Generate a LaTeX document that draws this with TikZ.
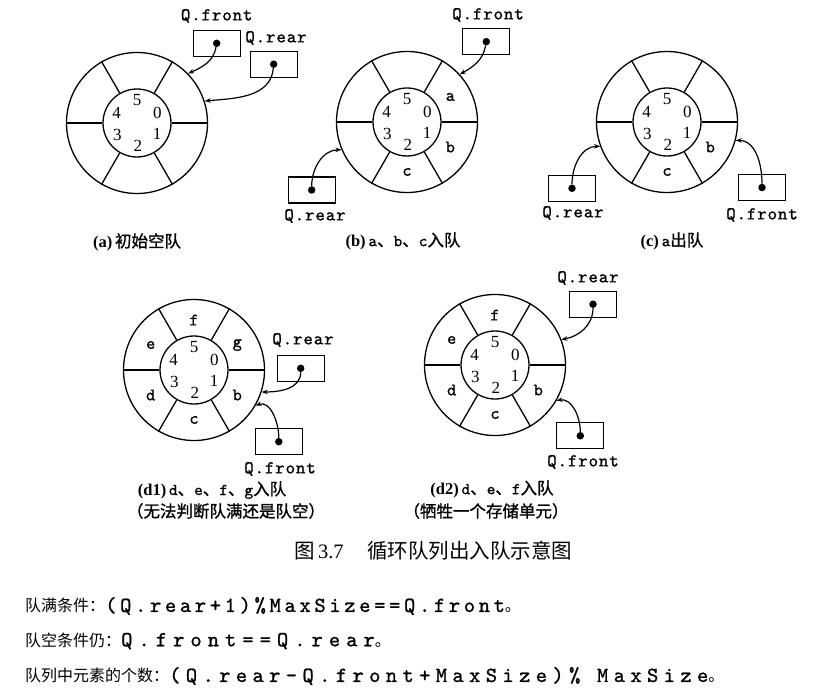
\documentclass[tikz,border=0pt]{standalone}
\usepackage{fontspec}
\setmainfont{Liberation Serif}
\newfontfamily\cjk{Noto Sans CJK SC}
\newfontfamily\cjkb{Noto Sans CJK SC}[FakeBold=1.2]
\newfontfamily\qt{lmmono10-regular.otf}[LetterSpace=5,FakeBold=1]
\newfontfamily\codeA{lmmono10-regular.otf}[LetterSpace=17,FakeBold=1]
\newfontfamily\codeB{lmmono10-regular.otf}[LetterSpace=28,FakeBold=1]
\newfontfamily\codeC{lmmono10-regular.otf}[LetterSpace=25,FakeBold=1]
\usetikzlibrary{arrows.meta}
\tikzset{
  outerring/.style={circle, draw, line width=1.3pt, minimum size=141pt, inner sep=0pt},
  innerring/.style={circle, draw, line width=1.3pt, minimum size=68pt, inner sep=0pt},
  spoke/.style={line width=1.3pt},
  digit/.style={font=\fontsize{17}{17}\selectfont, inner sep=0pt},
  slot/.style={font=\qt\fontsize{17.5}{17.5}\selectfont, inner sep=0pt},
  ptrbox/.style={draw, line width=1.3pt, minimum width=47pt, minimum height=26pt, inner sep=0pt},
  ptrdot/.style={circle, fill, minimum size=7.5pt, inner sep=0pt},
  ptrlabel/.style={font=\qt\fontsize{18}{18}\selectfont, inner sep=0pt},
  ptrarrow/.style={line width=1.2pt, -{Stealth[length=6pt,width=4.5pt]}},
  subcap/.style={font=\fontsize{16.5}{16.5}\selectfont, inner sep=0pt},
  figcap/.style={font=\fontsize{20.5}{20.5}\selectfont, inner sep=0pt, anchor=west},
  textline/.style={anchor=west, inner sep=0pt, font=\fontsize{16}{16}\selectfont}
}
\newcommand\wheel[3]{%
  \node[outerring] (#1) at (#2,-#3) {};
  \node[innerring] (#1i) at (#2,-#3) {};
  \foreach \a in {0,60,...,300} \draw[spoke] (#1i.\a) -- (#1.\a);
  \foreach \d/\a in {5/90,0/27,1/-29,2/-88,3/-148,4/153}
    \node[digit] (#1d\d) at ([shift={(\a:23)}]#1.center) {\d};
}
\newcommand\ptr[6]{%
  \node[ptrbox] (#1b) at (#2,-#3) {};
  \node[ptrdot] (#1d) at (#1b.center) {};
  \node[ptrlabel] (#1l) at (#4,-#5) {#6};
}
\newcommand\slotat[4]{\node[slot] (#1) at ([shift={(#3:50)}]#2.center) {#4};}
\begin{document}
\begin{tikzpicture}[x=1pt,y=1pt]
\useasboundingbox (0,0) rectangle (831,-696);
% (a)
\wheel{wa}{137}{123}
\ptr{af}{216.7}{43.3}{216.7}{16}{Q.front}
\ptr{ar}{273.7}{64.2}{276}{38}{Q.rear}
\draw[ptrarrow] (afd) to[out=-100,in=25] (wa.44);
\draw[ptrarrow] (ard) to[out=-95,in=5] (wa.18);
\node[subcap] (capa) at (137,-242) {\textbf{(a)}\,{\cjkb 初始空队}};
% (b)
\wheel{wb}{407}{122}
\slotat{wbs0}{wb}{30}{a}
\slotat{wbs1}{wb}{-30}{b}
\slotat{wbs2}{wb}{-90}{c}
\ptr{bf}{486.3}{41.7}{488}{15}{Q.front}
\ptr{br}{311.7}{190}{315}{216}{Q.rear}
\draw[ptrarrow] (bfd) to[out=-100,in=30] (wb.42);
\draw[ptrarrow] (brd) to[out=90,in=180] (wb.203);
\node[subcap] (capb) at (403,-241) {\textbf{(b)}\,{\qt a}{\cjkb 、}{\qt b}{\cjkb 、}{\qt c}{\cjkb 入队}};
% (c)
\wheel{wc}{667}{122}
\slotat{wcs1}{wc}{-30}{b}
\slotat{wcs2}{wc}{-90}{c}
\ptr{cr}{572}{188.3}{573}{213}{Q.rear}
\ptr{cf}{762}{187.5}{762}{215}{Q.front}
\draw[ptrarrow] (crd) to[out=90,in=180] (wc.200);
\draw[ptrarrow] (cfd) to[out=90,in=0] (wc.-15);
\node[subcap] (capc) at (672,-241) {\textbf{(c)}\,{\qt a}{\cjkb 出队}};
% (d1)
\wheel{wd}{194}{370}
\slotat{wds0}{wd}{30}{g}
\slotat{wds1}{wd}{-30}{b}
\slotat{wds2}{wd}{-90}{c}
\slotat{wds3}{wd}{-150}{d}
\slotat{wds4}{wd}{150}{e}
\slotat{wds5}{wd}{90}{f}
\ptr{dr}{300.7}{368.3}{303}{340}{Q.rear}
\ptr{df}{278.8}{441.7}{280}{469}{Q.front}
\draw[ptrarrow] (drd) to[out=-90,in=0] (wd.-18);
\draw[ptrarrow] (dfd) to[out=90,in=20] (wd.-30);
\node[subcap] (capd1) at (212,-490) {\textbf{(d1)}\,{\qt d}{\cjkb 、}{\qt e}{\cjkb 、}{\qt f}{\cjkb 、}{\qt g}{\cjkb 入队}};
\node[subcap] (capd1b) at (226,-511) {\cjkb （无法判断队满还是队空）};
% (d2)
\wheel{we}{495}{365}
\slotat{wes1}{we}{-30}{b}
\slotat{wes2}{we}{-90}{c}
\slotat{wes3}{we}{-150}{d}
\slotat{wes4}{we}{150}{e}
\slotat{wes5}{we}{90}{f}
\ptr{er}{593}{304.2}{588}{278}{Q.rear}
\ptr{ef}{580.3}{435.8}{583}{462}{Q.front}
\draw[ptrarrow] (erd) to[out=-90,in=10] (we.21);
\draw[ptrarrow] (efd) to[out=90,in=10] (we.-30);
\node[subcap] (capd2) at (492,-489) {\textbf{(d2)}\,{\qt d}{\cjkb 、}{\qt e}{\cjkb 、}{\qt f}{\cjkb 入队}};
\node[subcap] (capd2b) at (486,-511) {\cjkb （牺牲一个存储单元）};
% figure caption
\node[figcap] (fignum) at (294,-551) {{\cjk 图}\,3.7};
\node[figcap] (figtitle) at (367,-551) {\cjk 循环队列出入队示意图};
% text lines
\node[textline] (t1) at (25,-606) {{\cjk 队满条件：}{\codeA\fontsize{21.5}{21.5}\selectfont (Q.rear+1)\%MaxSize==Q.front}{\cjk 。}};
\node[textline] (t2) at (25,-641) {{\cjk 队空条件仍：}{\codeB\fontsize{21.5}{21.5}\selectfont Q.front==Q.rear}{\cjk 。}};
\node[textline] (t3) at (25,-676) {{\cjk 队列中元素的个数：}{\codeC\fontsize{21.5}{21.5}\selectfont (Q.rear-Q.front+MaxSize)\% MaxSize}{\cjk 。}};
\end{tikzpicture}
\end{document}
